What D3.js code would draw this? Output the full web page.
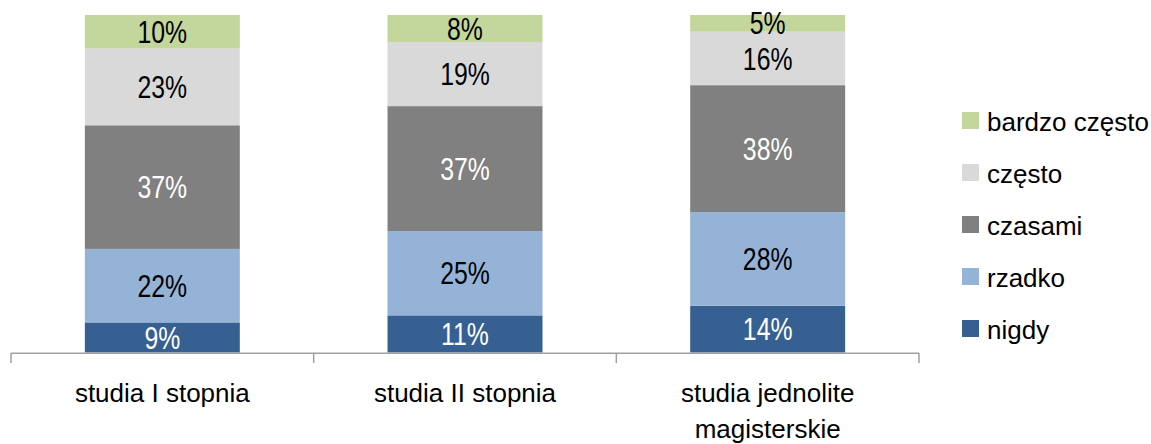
<!DOCTYPE html>
<html>
<head>
<meta charset="utf-8">
<script src="https://cdn.jsdelivr.net/npm/d3@7"></script>
<style>
  html, body { margin: 0; padding: 0; background: #fff; }
  svg { display: block; font-family: "Liberation Sans", Arial, sans-serif; }
</style>
</head>
<body>
<svg id="chart" width="1151" height="444"></svg>
<script>
const categories = ["studia I stopnia", "studia II stopnia", "studia jednolite\nmagisterskie"];
const seriesNames = ["nigdy", "rzadko", "czasami", "często", "bardzo często"];
const nigdy = [9, 11, 14];
const rzadko = [22, 25, 28];
const czasami = [37, 37, 38];
const czesto = [23, 19, 16];
const bardzoCzesto = [10, 8, 5];
const colors = ["#376092", "#95B3D7", "#808080", "#D9D9D9", "#C3D69B"];
const labelColors = ["#ffffff", "#000000", "#ffffff", "#000000", "#000000"];

const seriesValues = [nigdy, rzadko, czasami, czesto, bardzoCzesto];

const svg = d3.select("#chart");

const x = d3.scaleBand().domain(categories).range([11, 919])
  .paddingInner(0.488).paddingOuter(0.244);
const y = d3.scaleLinear().domain([0, 1]).range([352.5, 15]);

// build stacked (normalized) data
const rows = categories.map((c, i) => {
  const r = { cat: c };
  seriesNames.forEach((s, j) => r[s] = seriesValues[j][i]);
  return r;
});
const stack = d3.stack().keys(seriesNames).offset(d3.stackOffsetExpand);
const stacked = stack(rows);

const g = svg.append("g");
stacked.forEach((layer, j) => {
  const lg = g.append("g");
  lg.selectAll("rect").data(layer).enter().append("rect")
    .attr("x", d => x(d.data.cat))
    .attr("width", x.bandwidth())
    .attr("y", d => y(d[1]))
    .attr("height", d => y(d[0]) - y(d[1]))
    .attr("fill", colors[j]);
  lg.selectAll("text").data(layer).enter().append("text")
    .attr("transform", d => {
      const cx = x(d.data.cat) + x.bandwidth() / 2;
      const cy = (y(d[0]) + y(d[1])) / 2 + 11.1;
      return `translate(${cx},${cy}) scale(0.8,1)`;
    })
    .attr("text-anchor", "middle")
    .attr("font-size", 31)
    .attr("fill", labelColors[j])
    .text(d => d.data[seriesNames[j]] + "%");
});

// axis line and boundary ticks
const step = x.step();
const x0 = x.range()[0];
const x1 = x.range()[1];
const axisG = svg.append("g");
axisG.append("line")
  .attr("x1", x0).attr("x2", x1)
  .attr("y1", 353.2).attr("y2", 353.2)
  .attr("stroke", "#A0A0A0").attr("stroke-width", 1.5);
const bounds = d3.range(categories.length + 1).map(i => x0 + i * step);
axisG.selectAll("line.tick").data(bounds).enter().append("line")
  .attr("class", "tick")
  .attr("x1", d => d).attr("x2", d => d)
  .attr("y1", 353).attr("y2", 363)
  .attr("stroke", "#A0A0A0").attr("stroke-width", 1.5);

// category labels
categories.forEach(c => {
  const lines = c.split("\n");
  const t = svg.append("text")
    .attr("text-anchor", "middle")
    .attr("font-size", 26)
    .attr("fill", "#000");
  lines.forEach((ln, k) => {
    t.append("tspan")
      .attr("x", x(c) + x.bandwidth() / 2)
      .attr("y", 401.5 + k * 36)
      .text(ln);
  });
});

// legend (top to bottom: reversed series)
const legendOrder = seriesNames.map((s, j) => j).reverse();
const legend = svg.append("g");
legendOrder.forEach((j, k) => {
  const cy = 120.5 + k * 52;
  legend.append("rect")
    .attr("x", 962).attr("y", cy - 8.5)
    .attr("width", 17).attr("height", 17)
    .attr("fill", colors[j]);
  legend.append("text")
    .attr("x", 987).attr("y", cy + 10.5)
    .attr("font-size", 26)
    .attr("fill", "#000")
    .text(seriesNames[j]);
});
</script>
</body>
</html>
